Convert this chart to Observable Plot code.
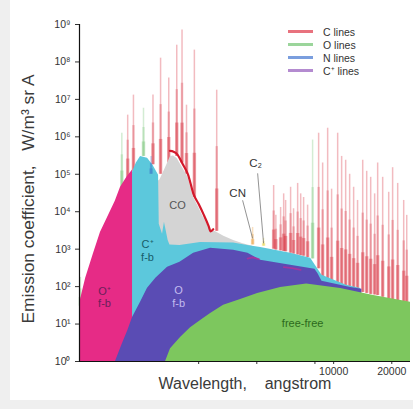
<!DOCTYPE html>
<html><head><meta charset="utf-8">
<script src="https://cdn.jsdelivr.net/npm/d3@7"></script>
<script src="https://cdn.jsdelivr.net/npm/@observablehq/plot@0.6"></script>
<style>
html,body{margin:0;padding:0;background:#efefef;width:413px;height:409px;overflow:hidden;}
#wrap{position:absolute;left:10px;top:0;width:403px;height:400px;background:#fff;}
#wrap svg{position:absolute;left:0;top:0;}
.title{position:absolute;font-family:"Liberation Sans",Arial,sans-serif;color:#3a3a3a;white-space:pre;}
#ytitle{left:18px;top:199px;font-size:17.4px;transform:translate(-50%,-50%) rotate(-90deg);}
#xtitle{left:235px;top:384px;font-size:16px;transform:translate(-50%,-50%);}
#legend{position:absolute;left:278px;top:25px;font-family:"Liberation Sans",Arial,sans-serif;font-size:10.5px;color:#333;}
#legend .row{height:13px;display:flex;align-items:center;}
#legend .sw{width:25px;height:2.5px;margin-right:10px;}
</style></head>
<body>
<div id="wrap">
  <div id="chart"></div>
  <div id="ytitle" class="title">Emission coefficient,   W/m³ sr A</div>
  <div id="xtitle" class="title">Wavelength,    angstrom</div>
  <div id="legend"></div>
</div>
<script>
// ---- axes ----
const xDomain = [483, 25000];
const yDomain = [1, 1e9];
const xTickValues = [2000, 4000, 8000, 10000, 20000];
const xTickLabels = ["", "", "", "10000", "20000"];
const yTickValues = [1, 10, 100, 1e3, 1e4, 1e5, 1e6, 1e7, 1e8, 1e9];
const yTickLabels = ["10⁰","10¹","10²","10³","10⁴","10⁵","10⁶","10⁷","10⁸","10⁹"];

// ---- continua (wavelength in angstrom, emission coefficient) ----
const opFbWl  = [483, 520, 571, 620, 675, 740, 788, 850, 909, 909];
const opFbVal = [35, 166, 770, 2800, 7000, 1.9e4, 4.5e4, 8.3e4, 1.3e5, 1];

const cpFbWl  = [905, 909, 950, 1000, 1087, 1160, 1240, 1250, 1300, 1330, 1390, 1420, 1600, 2047, 3033, 3584, 4188, 5985, 7600, 8700, 11650, 13800, 14000];
const cpFbVal = [1, 1.13e5, 1.97e5, 3.0e5, 2.7e5, 1.75e5, 9.4e4, 4.6e3, 2.5e3, 5.2e3, 1.7e3, 1.3e3, 1.26e3, 1.5e3, 1.45e3, 1.26e3, 1.1e3, 774, 569, 200, 108, 89, 1];

const coWl  = [1150, 1260, 1348, 1430, 1483, 1550, 1650, 1760, 1883, 2000, 2120, 2306, 2450, 2700, 3033, 3400, 3800, 3900];
const coVal = [5e4, 7e4, 1.5e5, 3.0e5, 3.1e5, 2.6e5, 1.5e5, 8.3e4, 2.4e4, 1.3e4, 7e3, 3.2e3, 2.9e3, 2.2e3, 1.7e3, 1.4e3, 1.2e3, 1];

const cEnvWl  = [1420, 1483, 1550, 1650, 1760, 1883, 2000, 2120, 2250, 2306, 2380];
const cEnvVal = [4.2e5, 4.0e5, 3.4e5, 1.9e5, 1.0e5, 2.9e4, 1.6e4, 8.5e3, 4.2e3, 3.0e3, 3.4e3];

const oFbWl  = [742, 800, 860, 909, 1000, 1087, 1200, 1380, 1600, 1883, 2306, 3033, 3600, 4188, 5985, 8000, 8300, 8700, 12250, 14000];
const oFbVal = [1, 2.7, 6.7, 15, 38, 90, 166, 327, 444, 774, 1050, 930, 774, 503, 370, 290, 220, 140, 95, 85];

const ffWl  = [1348, 1430, 1611, 1816, 2047, 2306, 2692, 3297, 4038, 5313, 7245, 10870, 16110, 25000];
const ffVal = [1, 2.2, 4.4, 8, 12.5, 19, 32, 45, 65, 95, 118, 89, 58, 38];

// C+ lines riding on the O f-b continuum
const cpLineWl  = [3584, 3800, 4100, 5520, 6100, 6750];
const cpLineVal = [560, 600, 540, 330, 310, 280];
const cpLineSeg = [1, 1, 1, 2, 2, 2];

// ---- emission lines ----
const lineWl   = [488, 800, 858, 919, 1036, 1134, 1160, 1270, 1400, 1540, 1640, 1730, 1900, 2480, 3805, 4337,
                  4890, 5020, 5313, 5510, 5640, 5985, 6200, 6510, 6750, 6990, 7330, 7780, 8360, 8770, 9310, 9760,
                  10490, 11000, 11540, 12100, 12690, 13300, 14140, 14830, 15550, 16300, 16900, 17940, 19280, 20200, 21460, 23050, 23900];
const lineTop  = [176, 1.25e6, 3.8e6, 1.3e7, 5.8e6, 3e5, 1.3e7, 1.26e8, 3.7e7, 2.8e8, 7.1e8, 7e6, 2.07e8, 1.76e7, 3.8e3, 1.94e3,
                  5e4, 8e3, 1.3e4, 3e4, 2e4, 4.5e4, 1.2e4, 5.7e4, 3e4, 2.4e4, 1.5e4, 8.2e5, 1.25e6, 2e5, 1.7e6, 4e4,
                  1.25e6, 3e5, 2.37e5, 1e5, 4.5e4, 2e4, 2.37e5, 1.2e5, 8.3e4, 3e4, 2e5, 8.3e4, 3.3e4, 1.5e5, 5.7e4, 2e4, 8e3];
const lineBase = [30, 4.5e4, 8e4, 1.2e5, 3e5, 1e5, 1.8e5, 1e5, 2e5, 3e5, 2e5, 1e5, 2.4e4, 3e3, 1.3e3, 1.2e3,
                  1e3, 950, 900, 870, 850, 780, 740, 700, 670, 650, 600, 550, 300, 150, 110, 100,
                  95, 92, 90, 88, 85, 80, 70, 66, 62, 60, 58, 52, 47, 45, 42, 40, 38];
const lineSpecies = ["O","O","C","C","O","N","C","C","C","C","C","C","C","C","CN","C2",
                     "C","C","C","C","C","C","C","C","C","C","C","O","C","C","C","C",
                     "C","C","C","C","C","C","C","C","C","C","C","C","C","C","C","C","C"];

// ---- annotations ----
const annText = ["O⁺\nf-b", "C⁺\nf-b", "CO", "O\nf-b", "free-free", "CN", "C₂"];
const annWl   = [651, 1087, 1555, 1574, 6910, 3183, 3944];
const annVal  = [53, 930, 1.48e4, 55, 11, 3.3e4, 1.97e5];
const leaderFromWl = [3377, 4040], leaderFromVal = [2.02e4, 1.06e5];
const leaderToWl   = [3805, 4337], leaderToVal   = [1.94e3, 1.43e3];

// ---- legend ----
const legendLabels = ["C lines", "O lines", "N lines", "C⁺ lines"];
const legendColors = ["#e8727e", "#9bd59b", "#7a9ede", "#b48bd0"];

const rows = (xs, ys) => xs.map((x, i) => ({x, y: ys[i]}));
const speciesColor = {C: "#d51f2f", O: "#6cc06c", N: "#3d6fc9", CN: "#e8962a", C2: "#e6d22e"};
const lines = lineWl.map((x, i) => ({x, top: lineTop[i], base: lineBase[i], sp: lineSpecies[i]}));
const backLines = lines.filter(d => d.sp !== "N");
const frontLines = lines.filter(d => d.sp === "N");
const frac = f => d => Math.exp(Math.log(d.base) * (1 - f) + Math.log(d.top) * f);
const spikeMarks = data => [
  Plot.ruleX(data, {x: "x", y1: "base", y2: "top", stroke: d => speciesColor[d.sp], strokeOpacity: 0.3, strokeWidth: 1.5}),
  Plot.ruleX(data, {x: "x", y1: "base", y2: frac(0.6), stroke: d => speciesColor[d.sp], strokeOpacity: 0.25, strokeWidth: 2.5}),
  Plot.ruleX(data, {x: "x", y1: "base", y2: frac(0.3), stroke: d => speciesColor[d.sp], strokeOpacity: 0.35, strokeWidth: 3.5})
];
const anns = annText.map((t, i) => ({t, x: annWl[i], y: annVal[i]}));
const annColors = ["#6b1f5a", "#175c6a", "#555555", "#c3bcf0", "#2c6a1c", "#333333", "#333333"];
const leaders = leaderFromWl.map((x, i) => ({x1: x, y1: leaderFromVal[i], x2: leaderToWl[i], y2: leaderToVal[i]}));

const chart = Plot.plot({
  width: 403, height: 400,
  marginLeft: 69, marginRight: 3, marginTop: 24, marginBottom: 39,
  style: {fontFamily: "'Liberation Sans', Arial, sans-serif", fontSize: "10.5px", color: "#333", background: "transparent", overflow: "visible"},
  x: {type: "log", domain: xDomain, ticks: xTickValues, tickFormat: d => xTickLabels[xTickValues.indexOf(d)], tickSize: 3, tickPadding: 3, label: null},
  y: {type: "log", domain: yDomain, ticks: yTickValues, tickFormat: d => yTickLabels[yTickValues.indexOf(d)], tickSize: 4, tickPadding: 5, label: null},
  marks: [
    ...spikeMarks(backLines),
    Plot.areaY(rows(coWl, coVal), {x: "x", y1: 1, y2: "y", fill: "#d4d4d4"}),
    Plot.line(rows(cEnvWl, cEnvVal), {x: "x", y: "y", stroke: "#d3192b", strokeWidth: 2.2, curve: "monotone-x"}),
    Plot.areaY(rows(cpFbWl, cpFbVal), {x: "x", y1: 1, y2: "y", fill: "#5cc8dc"}),
    ...spikeMarks(frontLines),
    Plot.areaY(rows(opFbWl, opFbVal), {x: "x", y1: 1, y2: "y", fill: "#e62b86"}),
    Plot.areaY(rows(oFbWl, oFbVal), {x: "x", y1: 1, y2: "y", fill: "#5a4cb4"}),
    Plot.line(cpLineWl.map((x, i) => ({x, y: cpLineVal[i], z: cpLineSeg[i]})), {x: "x", y: "y", z: "z", stroke: "#b3309a", strokeWidth: 1.8, strokeOpacity: 0.8}),
    Plot.areaY(rows(ffWl, ffVal), {x: "x", y1: 1, y2: "y", fill: "#7dc75e"}),
    Plot.link(leaders, {x1: "x1", y1: "y1", x2: "x2", y2: "y2", stroke: "#777", strokeWidth: 0.8}),
    ...anns.map((a, i) => Plot.text([a], {x: "x", y: "y", text: "t", fill: annColors[i], fontSize: i >= 5 ? 11.5 : 11, lineHeight: 1.15})),
    Plot.ruleX([xDomain[0]], {stroke: "#111", strokeWidth: 1.2}),
    Plot.ruleY([yDomain[0]], {stroke: "#111", strokeWidth: 1.2})
  ]
});
document.getElementById("chart").append(chart);

const legend = document.getElementById("legend");
legendLabels.forEach((lab, i) => {
  const row = document.createElement("div"); row.className = "row";
  const sw = document.createElement("div"); sw.className = "sw"; sw.style.background = legendColors[i];
  const tx = document.createElement("span"); tx.textContent = lab;
  row.append(sw, tx); legend.append(row);
});
</script>
</body></html>
